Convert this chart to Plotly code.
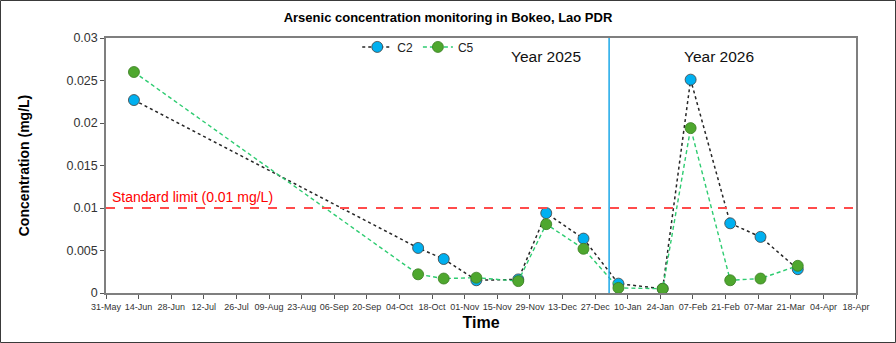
import plotly.graph_objects as go
import pandas as pd

# Sampling dates and arsenic concentrations (mg/L) for the two monitoring points
sample_dates = ["2025-06-12", "2025-10-12", "2025-10-23", "2025-11-06", "2025-11-24",
                "2025-12-06", "2025-12-22", "2026-01-06", "2026-01-25", "2026-02-06",
                "2026-02-23", "2026-03-08", "2026-03-24"]
c2_values = [0.0227, 0.0053, 0.0040, 0.0015, 0.0016, 0.0094, 0.0064,
             0.0011, 0.0005, 0.0251, 0.0082, 0.0066, 0.0028]
c5_values = [0.0260, 0.0022, 0.0017, 0.0018, 0.0014, 0.0081, 0.0052,
             0.0006, 0.0005, 0.0194, 0.0015, 0.0017, 0.0032]

standard_limit = 0.01
year_boundary = "2026-01-02"
x_start, x_end = "2025-05-31", "2026-04-18"
y_ticks = [0, 0.005, 0.01, 0.015, 0.02, 0.025, 0.03]
y_tick_labels = ["0", "0.005", "0.01", "0.015", "0.02", "0.025", "0.03"]

x_ticks = pd.date_range(x_start, x_end, freq="14D")
x_tick_labels = [d.strftime("%d-%b") for d in x_ticks]

fig = go.Figure()
fig.add_trace(go.Scatter(
    x=sample_dates, y=c2_values, name="C2", mode="lines+markers",
    line=dict(color="#262626", width=1.5, dash="dot"),
    marker=dict(size=11, color="#00B0F0", line=dict(color="#404040", width=0.8)),
))
fig.add_trace(go.Scatter(
    x=sample_dates, y=c5_values, name="C5", mode="lines+markers",
    line=dict(color="#2ECC71", width=1.4, dash="4px,3px"),
    marker=dict(size=11, color="#4EA72E", line=dict(color="#3A7D22", width=0.8)),
))

# Regulatory limit and year separator
fig.add_shape(type="line", xref="paper", yref="y", x0=0, x1=1,
              y0=standard_limit, y1=standard_limit,
              line=dict(color="#FF4B4B", width=2, dash="dash"))
fig.add_shape(type="line", xref="x", yref="paper", x0=year_boundary, x1=year_boundary,
              y0=0, y1=1, line=dict(color="#1CA8E8", width=1.5))

# Outer chart border
fig.add_shape(type="rect", xref="paper", yref="paper",
              x0=-105.5 / 750, x1=789.5 / 750, y0=-49.5 / 255, y1=292.5 / 255,
              line=dict(color="#3a3a3a", width=1), layer="above")

fig.add_annotation(x=0.005, y=standard_limit, xref="paper", yref="y",
                   text="Standard limit (0.01 mg/L)", showarrow=False,
                   xanchor="left", yanchor="bottom", yshift=1,
                   font=dict(family="Liberation Sans, Arial", size=14, color="#FF0000"))
fig.add_annotation(x="2025-12-06", y=0.0278, xref="x", yref="y", text="Year 2025",
                   showarrow=False, font=dict(family="Liberation Sans, Arial", size=15.5, color="#111111"))
fig.add_annotation(x="2026-02-18", y=0.0278, xref="x", yref="y", text="Year 2026",
                   showarrow=False, font=dict(family="Liberation Sans, Arial", size=15.5, color="#111111"))

fig.update_layout(
    width=896, height=343,
    margin=dict(l=106, r=40, t=38, b=50),
    paper_bgcolor="white", plot_bgcolor="white",
    title=dict(text="<b>Arsenic concentration monitoring in Bokeo, Lao PDR</b>",
               x=0.5, xanchor="center", y=0.95, yanchor="middle",
               font=dict(family="Liberation Sans, Arial", size=13, color="#000000")),
    legend=dict(orientation="h", x=0.335, y=0.965, xanchor="left", yanchor="middle",
                bgcolor="rgba(0,0,0,0)", itemwidth=30, tracegroupgap=0,
                font=dict(family="Liberation Sans, Arial", size=12, color="#222222")),
    showlegend=True,
)
fig.update_xaxes(
    range=[x_start, x_end], tickvals=x_ticks, ticktext=x_tick_labels,
    ticks="outside", ticklen=4, tickcolor="#555555", showgrid=False,
    showline=True, linecolor="#7f7f7f", linewidth=1.5, mirror=True,
    tickfont=dict(family="Liberation Sans, Arial", size=9, color="#333333"),
    title=dict(text="<b>Time</b>", standoff=6,
               font=dict(family="Liberation Sans, Arial", size=16, color="#000000")),
    zeroline=False,
)
fig.update_yaxes(
    range=[0, 0.03], tickvals=y_ticks, ticktext=y_tick_labels,
    ticks="outside", ticklen=4, tickcolor="#555555", showgrid=False,
    showline=True, linecolor="#7f7f7f", linewidth=1.5, mirror=True,
    tickfont=dict(family="Liberation Sans, Arial", size=12.5, color="#333333"),
    title=dict(text="<b>Concentration (mg/L)</b>", standoff=34,
               font=dict(family="Liberation Sans, Arial", size=14, color="#000000")),
    zeroline=False,
)

fig.write_html("out.html")
